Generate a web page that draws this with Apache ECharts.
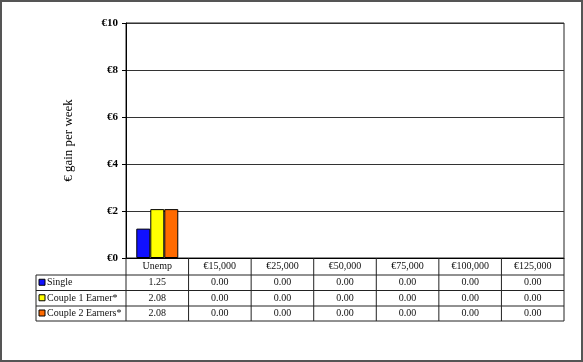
<!DOCTYPE html>
<html>
<head>
<meta charset="utf-8">
<script src="https://cdn.jsdelivr.net/npm/echarts@6/dist/echarts.min.js"></script>
<style>html,body{margin:0;padding:0;background:#fff}#c{width:583px;height:362px}</style>
</head>
<body>
<div id="c"></div>
<script>
var categories = ['Unemp', '€15,000', '€25,000', '€50,000', '€75,000', '€100,000', '€125,000'];
var seriesNames = ['Single', 'Couple 1 Earner*', 'Couple 2 Earners*'];
var single = [1.25, 0, 0, 0, 0, 0, 0];
var couple1 = [2.08, 0, 0, 0, 0, 0, 0];
var couple2 = [2.08, 0, 0, 0, 0, 0, 0];
var yTicks = [0, 2, 4, 6, 8, 10];
var colors = ['#1010ff', '#ffff00', '#ff6a00'];

var SERIF = '"Liberation Serif", "DejaVu Serif", serif';
var chart = echarts.init(document.getElementById('c'), null, {renderer: 'canvas'});
var seriesData = [single, couple1, couple2];

var option = {
  animation: false,
  backgroundColor: '#fff',
  grid: {left: 126, right: 19, top: 23, bottom: 104, containLabel: false,
         show: true, borderColor: '#222', borderWidth: 1, backgroundColor: 'transparent'},
  xAxis: {
    type: 'category', data: categories,
    axisLine: {show: true, lineStyle: {color: '#000', width: 1}},
    axisTick: {show: false},
    axisLabel: {show: false},
    splitLine: {show: false}
  },
  yAxis: {
    type: 'value', min: yTicks[0], max: yTicks[yTicks.length - 1], interval: yTicks[1] - yTicks[0],
    name: '€ gain per week', nameLocation: 'middle', nameGap: 51,
    nameTextStyle: {fontFamily: SERIF, fontSize: 13, color: '#000'},
    axisLine: {show: true, lineStyle: {color: '#000', width: 1}},
    axisTick: {show: true, inside: false, length: 4, lineStyle: {color: '#000'}},
    axisLabel: {fontFamily: SERIF, fontSize: 11, fontWeight: 'bold', color: '#000', margin: 8,
      formatter: function (v) { return '€' + v; }},
    splitLine: {show: true, lineStyle: {color: '#333', width: 1}}
  },
  series: seriesNames.map(function (n, i) {
    return {
      name: n, type: 'bar', barWidth: 14, barGap: '0%',
      data: seriesData[i].map(function (v) {
        return {value: v, itemStyle: {borderWidth: v ? 1 : 0}};
      }),
      itemStyle: {color: colors[i], borderColor: '#000', borderWidth: 1}
    };
  })
};
chart.setOption(option);

// data table below the chart
var g = [];
var x0 = chart.convertToPixel({xAxisIndex: 0}, 0);
var x1 = chart.convertToPixel({xAxisIndex: 0}, 1);
var band = x1 - x0;
var left = x0 - band / 2;
var right = left + band * categories.length;
var yBase = chart.convertToPixel({yAxisIndex: 0}, 0);
var labelLeft = 36;
var rowTops = [yBase, yBase + 17, yBase + 32.5, yBase + 48, yBase + 63];
function line(xa, ya, xb, yb, c, w) {
  g.push({type: 'line', shape: {x1: xa, y1: ya, x2: xb, y2: yb},
    style: {stroke: c || '#222', lineWidth: w || 1}, z: 10});
}
function text(t, x, y, align) {
  g.push({type: 'text', x: x, y: y, style: {text: t, font: '10px ' + SERIF, fill: '#111',
    align: align || 'center', verticalAlign: 'middle'}, z: 11});
}
line(left, rowTops[1], right, rowTops[1]);
line(labelLeft, rowTops[1], left, rowTops[1]);
for (var r = 2; r < rowTops.length; r++) line(labelLeft, rowTops[r], right, rowTops[r]);
line(labelLeft, rowTops[1], labelLeft, rowTops[4]);
for (var c = 0; c <= categories.length; c++) {
  var xx = left + c * band;
  line(xx, rowTops[0], xx, rowTops[4]);
}
categories.forEach(function (cat, i) {
  text(cat, chart.convertToPixel({xAxisIndex: 0}, i), (rowTops[0] + rowTops[1]) / 2);
});
seriesNames.forEach(function (n, si) {
  var yc = (rowTops[si + 1] + rowTops[si + 2]) / 2;
  g.push({type: 'rect', shape: {x: 39, y: yc - 3.5, width: 6, height: 6},
    style: {fill: colors[si], stroke: '#000', lineWidth: 1}, z: 11});
  text(n, 47, yc, 'left');
  seriesData[si].forEach(function (v, i) {
    text(v.toFixed(2), chart.convertToPixel({xAxisIndex: 0}, i), yc);
  });
});
g.push({type: 'rect', shape: {x: 1, y: 1, width: 581, height: 360},
  style: {fill: 'none', stroke: '#555', lineWidth: 2}, z: 20});
chart.setOption({graphic: g});
</script>
</body>
</html>
